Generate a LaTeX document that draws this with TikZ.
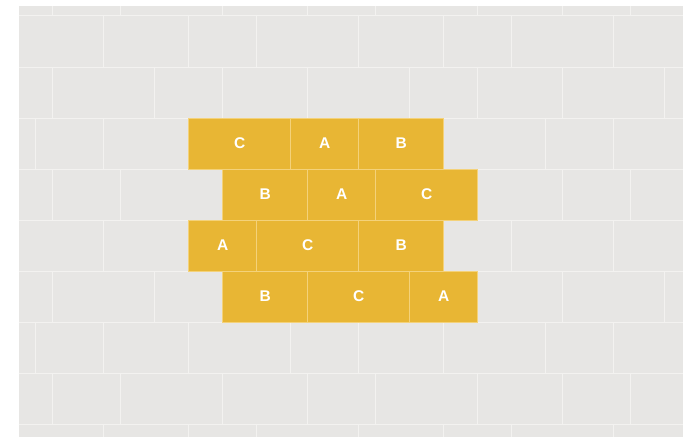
\documentclass[tikz,border=0pt]{standalone}
\usepackage{fontspec}
\setmainfont{Liberation Sans}
\definecolor{wallbg}{HTML}{E7E6E4}
\definecolor{mortar}{HTML}{F3F2F0}
\definecolor{gold}{HTML}{E8B634}
\definecolor{goldline}{HTML}{F4D27A}
\begin{document}
\begin{tikzpicture}[x=17bp,y=-17bp,
  brick/.style={draw=goldline, line width=1bp, fill=gold, text=white,
    font=\bfseries\fontsize{15.5bp}{18bp}\selectfont, inner sep=0pt, outer sep=0pt,
    minimum height=51bp},
  brickA/.style={brick, minimum width=68bp},
  brickB/.style={brick, minimum width=85bp},
  brickC/.style={brick, minimum width=102bp},
  mortarline/.style={draw=mortar, line width=1bp}
]
\useasboundingbox (-1.1,-0.941) rectangle (39.076,24.706);
\begin{scope}
\clip (0,-0.588) rectangle (39.3,24.8);
\fill[wallbg] (0,-0.588) rectangle (39.3,24.8);
\foreach \r in {0,...,8} \draw[mortarline] (0,3*\r) -- (39.3,3*\r);
\foreach \r in {-1,3,7} \foreach \x in {2,6,12,17,21,27,32,36}
  \draw[mortarline] (\x,3*\r) -- (\x,3*\r+3);
\foreach \r in {0,4,8} \foreach \x in {5,10,14,20,25,29,35}
  \draw[mortarline] (\x,3*\r) -- (\x,3*\r+3);
\foreach \r in {1,5} \foreach \x in {2,8,12,17,23,27,32,38}
  \draw[mortarline] (\x,3*\r) -- (\x,3*\r+3);
\foreach \r in {2,6} \foreach \x in {1,5,10,16,20,25,31,35}
  \draw[mortarline] (\x,3*\r) -- (\x,3*\r+3);
\end{scope}
% highlighted bricks
\node[brickC] (r1c) at (13,7.5) {C};
\node[brickA] (r1a) at (18,7.5) {A};
\node[brickB] (r1b) at (22.5,7.5) {B};
\node[brickB] (r2b) at (14.5,10.5) {B};
\node[brickA] (r2a) at (19,10.5) {A};
\node[brickC] (r2c) at (24,10.5) {C};
\node[brickA] (r3a) at (12,13.5) {A};
\node[brickC] (r3c) at (17,13.5) {C};
\node[brickB] (r3b) at (22.5,13.5) {B};
\node[brickB] (r4b) at (14.5,16.5) {B};
\node[brickC] (r4c) at (20,16.5) {C};
\node[brickA] (r4a) at (25,16.5) {A};
\end{tikzpicture}
\end{document}
